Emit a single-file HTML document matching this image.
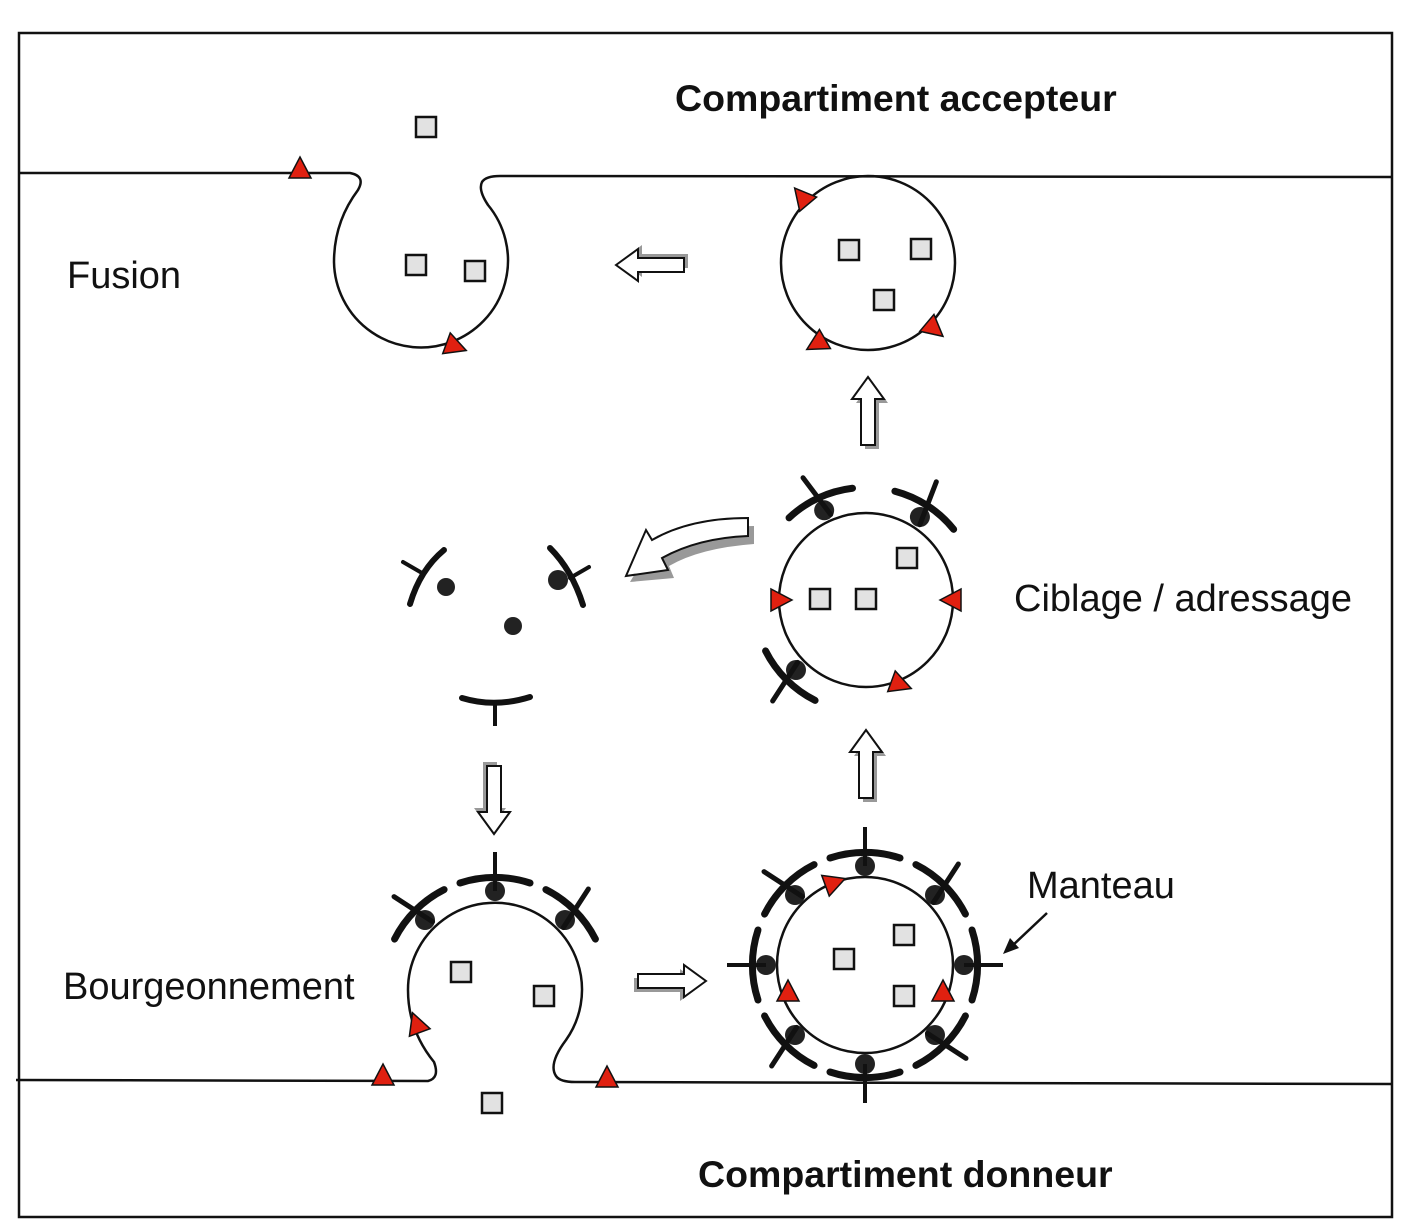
<!DOCTYPE html>
<html><head><meta charset="utf-8"><style>
html,body{margin:0;padding:0;background:#fff;}
svg{display:block}
text{font-family:"Liberation Sans",sans-serif;fill:#111}
</style></head><body>
<svg width="1408" height="1232" viewBox="0 0 1408 1232" xmlns="http://www.w3.org/2000/svg">
<defs>
<g id="pc"><path d="M-35,-107 A112,112 0 0 1 35,-107" fill="none" stroke="#111" stroke-width="7" stroke-linecap="round"/><circle cx="0" cy="-99" r="10" fill="#222"/></g>
<g id="ps"><use href="#pc"/><line x1="0" y1="-99" x2="0" y2="-138" stroke="#111" stroke-width="4"/></g>
<g id="px"><use href="#pc"/><line x1="0" y1="-92" x2="0" y2="-138" stroke="#111" stroke-width="5" stroke-linecap="round" transform="rotate(-12,0,-112)"/></g>
<rect id="sq" x="-10" y="-10" width="20" height="20" fill="#e2e2e2" stroke="#111" stroke-width="2.5"/>
<polygon id="tri" points="0,-13 11,8 -11,8" fill="#e02010" stroke="#111" stroke-width="1.5"/>
<g id="ua"><polygon points="4,4 20,26 11,26 11,72 -3,72 -3,26 -12,26" fill="#999"/><polygon points="0,0 16,22 7,22 7,68 -7,68 -7,22 -16,22" fill="#fff" stroke="#111" stroke-width="2"/></g>
</defs>
<rect x="19" y="33" width="1373" height="1184" fill="none" stroke="#111" stroke-width="2.5"/>
<path d="M20,173 L350,173 Q366,176 358,190 Q334,222 334,262 A87,87 0 1 0 488,205 Q478,190 482,182 Q486,176 500,176 L1392,177" fill="none" stroke="#111" stroke-width="2.5"/>
<path d="M16,1080 L428,1081 Q440,1078 434,1062 Q408,1030 408,990 A87,87 0 1 1 566,1040 Q548,1064 556,1076 Q560,1082 575,1082 L1392,1084" fill="none" stroke="#111" stroke-width="2.5"/>
<circle cx="868" cy="263" r="87" fill="none" stroke="#111" stroke-width="2.5"/>
<circle cx="866" cy="600" r="87" fill="none" stroke="#111" stroke-width="2.5"/>
<circle cx="865" cy="965" r="88" fill="none" stroke="#111" stroke-width="2.5"/>
<g transform="translate(865,965)">
<use href="#ps"/><use href="#px" transform="rotate(45)"/><use href="#ps" transform="rotate(90)"/><use href="#px" transform="rotate(135)"/>
<use href="#ps" transform="rotate(180)"/><use href="#px" transform="rotate(225)"/><use href="#ps" transform="rotate(270)"/><use href="#px" transform="rotate(315)"/>
</g>
<g transform="translate(866,600)">
<use href="#px" transform="rotate(-25)"/><use href="#px" transform="rotate(33)"/><use href="#px" transform="rotate(225)"/>
</g>
<g transform="translate(495,990)">
<use href="#ps"/><use href="#px" transform="rotate(-45)"/><use href="#px" transform="rotate(45)"/>
</g>
<path d="M410,604 Q420,570 444,550" fill="none" stroke="#111" stroke-width="6" stroke-linecap="round"/>
<line x1="403" y1="562" x2="422" y2="573" stroke="#111" stroke-width="4" stroke-linecap="round"/>
<circle cx="446" cy="587" r="9" fill="#222"/>
<path d="M550,548 Q572,570 583,605" fill="none" stroke="#111" stroke-width="6" stroke-linecap="round"/>
<line x1="570" y1="578" x2="589" y2="567" stroke="#111" stroke-width="4" stroke-linecap="round"/>
<circle cx="558" cy="580" r="10" fill="#222"/>
<circle cx="513" cy="626" r="9" fill="#222"/>
<path d="M462,698 Q495,708 530,697" fill="none" stroke="#111" stroke-width="6" stroke-linecap="round"/>
<line x1="495" y1="703" x2="495" y2="726" stroke="#111" stroke-width="4"/>
<use href="#sq" x="426" y="127"/><use href="#sq" x="416" y="265"/><use href="#sq" x="475" y="271"/>
<use href="#sq" x="849" y="250"/><use href="#sq" x="921" y="249"/><use href="#sq" x="884" y="300"/>
<use href="#sq" x="907" y="558"/><use href="#sq" x="820" y="599"/><use href="#sq" x="866" y="599"/>
<use href="#sq" x="844" y="959"/><use href="#sq" x="904" y="935"/><use href="#sq" x="904" y="996"/>
<use href="#sq" x="461" y="972"/><use href="#sq" x="544" y="996"/><use href="#sq" x="492" y="1103"/>
<use href="#tri" transform="translate(300,170)"/>
<use href="#tri" transform="translate(454,346) rotate(110)"/>
<use href="#tri" transform="translate(803,198) rotate(-40)"/>
<use href="#tri" transform="translate(818,343) rotate(-120)"/>
<use href="#tri" transform="translate(933,328) rotate(130)"/>
<use href="#tri" transform="translate(779,600) rotate(90)"/>
<use href="#tri" transform="translate(953,600) rotate(-90)"/>
<use href="#tri" transform="translate(899,684) rotate(110)"/>
<use href="#tri" transform="translate(833,883) rotate(70)"/>
<use href="#tri" transform="translate(788,993)"/>
<use href="#tri" transform="translate(943,993)"/>
<use href="#tri" transform="translate(417,1025) rotate(-20)"/>
<use href="#tri" transform="translate(383,1077)"/>
<use href="#tri" transform="translate(607,1079)"/>
<use href="#ua" transform="translate(868,377)"/>
<use href="#ua" transform="translate(866,730)"/>
<use href="#ua" transform="translate(494,834) rotate(180)"/>
<use href="#ua" transform="translate(616,265) rotate(-90)"/>
<use href="#ua" transform="translate(706,981) rotate(90)"/>
<path d="M754,526 Q700,526 662,545 L658,535 L630,582 L674,578 L669,566 Q700,548 754,544 Z" fill="#999"/>
<path d="M748,518 Q690,518 652,540 L646,530 L626,576 L668,570 L662,558 Q698,538 748,536 Z" fill="#fff" stroke="#111" stroke-width="2"/>
<line x1="1047" y1="913" x2="1012" y2="946" stroke="#111" stroke-width="2.5"/>
<polygon points="1003,954 1010,938 1019,948" fill="#111"/>
<text x="675" y="111" font-size="37.5" font-weight="bold">Compartiment accepteur</text>
<text x="67" y="288" font-size="38">Fusion</text>
<text x="1014" y="611" font-size="38">Ciblage / adressage</text>
<text x="1027" y="898" font-size="38">Manteau</text>
<text x="63" y="999" font-size="38">Bourgeonnement</text>
<text x="698" y="1187" font-size="37.5" font-weight="bold">Compartiment donneur</text>
</svg>
</body></html>
